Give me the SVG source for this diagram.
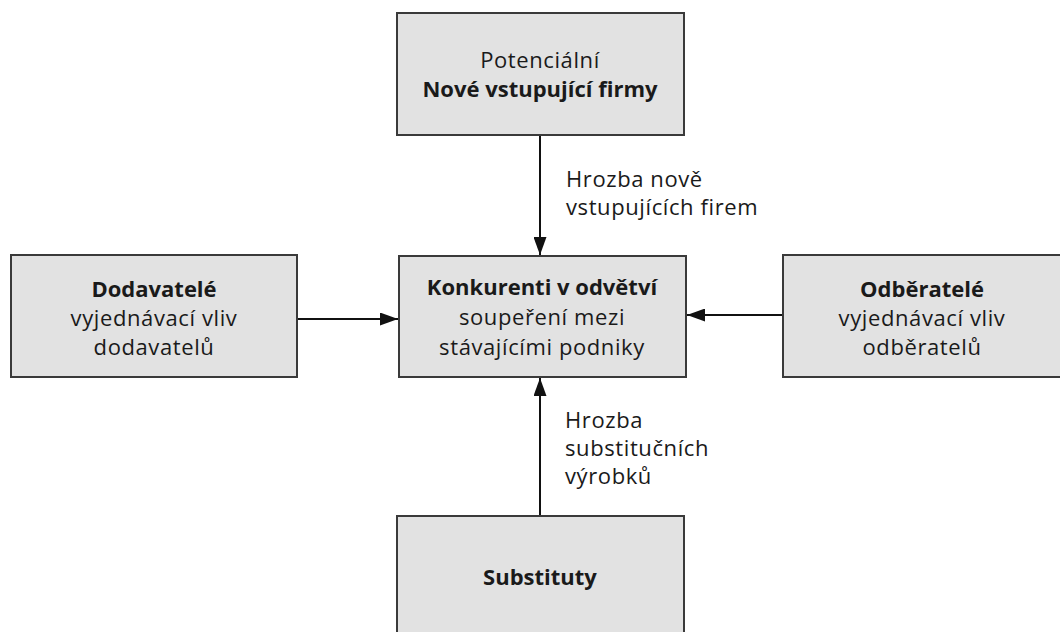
<svg xmlns="http://www.w3.org/2000/svg" width="1060" height="632" viewBox="0 0 1060 632">
<style>
.box{fill:#e2e2e2;stroke:#3a3a3a;stroke-width:2}
text{font-family:"Open Sans","Noto Sans","DejaVu Sans",sans-serif;font-size:22px;fill:#1a1a1a;letter-spacing:0.6px}
.c{text-anchor:middle}
.b{font-weight:bold;letter-spacing:0}
.line{stroke:#111;stroke-width:2;fill:none}
</style>
<defs>
<marker id="ah" viewBox="0 0 18 13" refX="18" refY="6.5" markerWidth="18" markerHeight="13" markerUnits="userSpaceOnUse" orient="auto">
<path d="M0,0 L18,6.5 L0,13 Z" fill="#111"/>
</marker>
</defs>
<g id="connectors">
<line class="line" x1="540" y1="135" x2="540" y2="255" marker-end="url(#ah)"/>
<line class="line" x1="540" y1="516" x2="540" y2="378" marker-end="url(#ah)"/>
<line class="line" x1="297" y1="319" x2="398" y2="319" marker-end="url(#ah)"/>
<line class="line" x1="783" y1="315" x2="687" y2="315" marker-end="url(#ah)"/>
<text x="566" y="187">Hrozba nově</text>
<text x="566" y="215">vstupujících firem</text>
<text x="565" y="428">Hrozba</text>
<text x="565" y="456">substitučních</text>
<text x="565" y="484">výrobků</text>
</g>
<g id="node-new">
<rect class="box" x="397" y="13" width="287" height="122"/>
<text class="c" x="540" y="68">Potenciální</text>
<text class="c b" x="540" y="97">Nové vstupující firmy</text>
</g>
<g id="node-suppliers">
<rect class="box" x="11" y="255" width="286" height="122"/>
<text class="c b" x="154" y="297">Dodavatelé</text>
<text class="c" x="154" y="326">vyjednávací vliv</text>
<text class="c" x="154" y="355">dodavatelů</text>
</g>
<g id="node-rivals">
<rect class="box" x="399" y="256" width="287" height="121"/>
<text class="c b" x="542" y="295">Konkurenti v odvětví</text>
<text class="c" x="542" y="325">soupeření mezi</text>
<text class="c" x="542" y="355">stávajícími podniky</text>
</g>
<g id="node-buyers">
<rect class="box" x="783" y="255" width="290" height="122"/>
<text class="c b" x="922" y="297">Odběratelé</text>
<text class="c" x="922" y="326">vyjednávací vliv</text>
<text class="c" x="922" y="355">odběratelů</text>
</g>
<g id="node-substitutes">
<rect class="box" x="397" y="516" width="287" height="130"/>
<text class="c b" x="540" y="585">Substituty</text>
</g>
</svg>
